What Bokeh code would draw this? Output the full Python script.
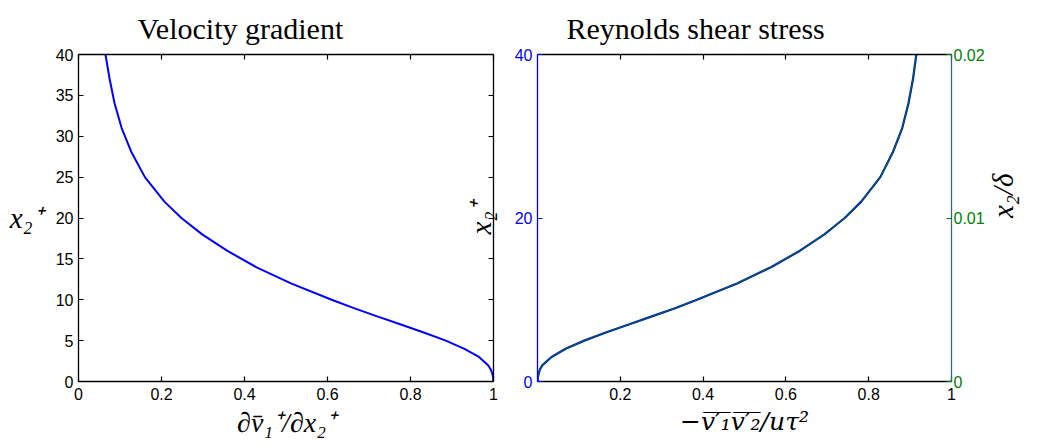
import math
from bokeh.plotting import figure
from bokeh.models import Range1d, LinearAxis, FixedTicker, CustomLabelingPolicy
from bokeh.layouts import row
from bokeh.embed import file_html
from bokeh.resources import INLINE

# ---------------- data ----------------
y_plus = [0, 0.5, 1, 1.5, 2, 3, 4, 5, 6, 7, 8, 9, 10, 12, 14, 16, 18, 20,
          22, 25, 28, 31, 34, 37, 40]
velocity_gradient = [1.0, 0.999, 0.997, 0.993, 0.987, 0.965, 0.93, 0.885,
                     0.832, 0.775, 0.718, 0.662, 0.61, 0.512, 0.428, 0.358,
                     0.298, 0.248, 0.207, 0.16, 0.128, 0.104, 0.087, 0.075,
                     0.065]
reynolds_stress = [0.0, 0.001, 0.003, 0.006, 0.012, 0.034, 0.068, 0.113,
                   0.165, 0.222, 0.278, 0.334, 0.385, 0.482, 0.565, 0.634,
                   0.693, 0.742, 0.782, 0.828, 0.858, 0.881, 0.896, 0.907,
                   0.915]
y_over_delta = [0, 0.00025, 0.0005, 0.00075, 0.001, 0.0015, 0.002, 0.0025,
                0.003, 0.0035, 0.004, 0.0045, 0.005, 0.006, 0.007, 0.008,
                0.009, 0.010, 0.011, 0.0125, 0.014, 0.0155, 0.017, 0.0185,
                0.020]

x_ticks_left = [0, 0.2, 0.4, 0.6, 0.8, 1]
x_tick_labels_left = ["0", "0.2", "0.4", "0.6", "0.8", "1"]
y_ticks_left = [0, 5, 10, 15, 20, 25, 30, 35, 40]
x_ticks_right = [0.2, 0.4, 0.6, 0.8, 1]
x_tick_labels_right = ["0.2", "0.4", "0.6", "0.8", "1"]
y_ticks_right_plus = [0, 20, 40]
y_ticks_right_delta = [0, 0.01, 0.02]
y_tick_labels_right_delta = ["0", "0.01", "0.02"]

title_left = "Velocity gradient"
title_right = "Reynolds shear stress"
xlabel_left = "\u2202v\u0304\u2081\u207a/\u2202x\u2082\u207a"
ylabel_left = "x\u2082\u207a"
xlabel_right = "\u2212v\u0305\u2032\u0305\u2081\u0305v\u0305\u2032\u0305\u2082\u0305/u\u03c4\u00b2"
ylabel_right_plus = "x\u2082\u207a"
ylabel_right_delta = "x\u2082/\u03b4"

BLUE = "#0000ff"
GREEN = "#008000"
TEAL = "#1f6e8c"
SANS = "Liberation Sans"
SERIF = "Liberation Serif"

NO_LABELS = "for (const i of Array.from(indices)) { indices.unset(i) }\nreturn indices"


def style_axis(ax, ticks, color="black", labels=None, show_labels=True,
               standoff=5, line_color=None):
    ax.ticker = FixedTicker(ticks=ticks)
    ax.axis_line_color = line_color or color
    ax.axis_line_width = 1.3
    ax.major_tick_line_color = line_color or color
    ax.major_tick_line_width = 1.2
    ax.major_tick_in = 5
    ax.major_tick_out = 0
    ax.minor_tick_line_color = None
    ax.major_label_text_font = SANS
    ax.major_label_text_font_size = "16px"
    ax.major_label_text_color = color
    ax.major_label_standoff = standoff
    if labels is not None:
        ax.major_label_overrides = {t: s for t, s in zip(ticks, labels)}
    if not show_labels:
        # tick marks only (box axes): no labels are drawn and no space is taken
        ax.major_label_policy = CustomLabelingPolicy(code=NO_LABELS)
        ax.major_label_text_font_size = "0px"
        ax.major_label_standoff = 0


def style_label(ax, text, size="29px", standoff=8, font=SERIF):
    ax.axis_label = text
    ax.axis_label_text_font = font
    ax.axis_label_text_font_style = "italic"
    ax.axis_label_text_font_size = size
    ax.axis_label_text_color = "black"
    ax.axis_label_standoff = standoff


def base_fig(width, mbl, mbr, title, offset):
    p = figure(width=width, height=448, x_range=Range1d(0, 1),
               y_range=Range1d(0, 40), min_border_left=mbl,
               min_border_right=mbr, min_border_top=54, min_border_bottom=67,
               output_backend="svg", toolbar_location=None, title=title)
    p.grid.visible = False
    p.outline_line_color = None
    p.background_fill_color = "white"
    p.title.text_font = SERIF
    p.title.text_font_style = "normal"
    p.title.text_font_size = "30px"
    p.title.text_color = "black"
    p.title.align = "left"
    p.title.offset = offset
    p.title.standoff = 19
    return p


# ---------------- left panel ----------------
p1 = base_fig(504, 78, 11, title_left, 59)
p1.border_fill_color = "white"
p1.line(velocity_gradient, y_plus, line_color=BLUE, line_width=2)
style_axis(p1.xaxis[0], x_ticks_left, labels=x_tick_labels_left, standoff=6)
style_axis(p1.yaxis[0], y_ticks_left, standoff=5)
style_label(p1.xaxis[0], xlabel_left, size="28px", standoff=4)
style_label(p1.yaxis[0], ylabel_left, size="29px", standoff=10)
p1.yaxis[0].axis_label_orientation = "horizontal"
top1 = LinearAxis()
style_axis(top1, x_ticks_left, show_labels=False)
p1.add_layout(top1, "above")
right1 = LinearAxis()
style_axis(right1, y_ticks_left, show_labels=False)
p1.add_layout(right1, "right")

# ---------------- right panel (its left margin overlaps the left panel) ----------------
p2 = base_fig(576, 76, 84, title_right, 29)
p2.border_fill_color = None
p2.margin = (0, 0, 0, -43)
p2.extra_y_ranges = {"delta": Range1d(0, 0.02)}
p2.line(reynolds_stress, y_plus, line_color=BLUE, line_width=2.2)
p2.line(reynolds_stress, y_over_delta, line_color=GREEN, line_width=1.3,
        line_alpha=0.75, y_range_name="delta")

style_axis(p2.xaxis[0], x_ticks_right, labels=x_tick_labels_right, standoff=6)
style_label(p2.xaxis[0], xlabel_right, size="25px", standoff=4, font="DejaVu Serif")
style_axis(p2.yaxis[0], y_ticks_right_plus, color=BLUE, standoff=5)
style_label(p2.yaxis[0], ylabel_right_plus, size="29px", standoff=15)
top2 = LinearAxis()
style_axis(top2, x_ticks_right, show_labels=False)
p2.add_layout(top2, "above")
right2 = LinearAxis(y_range_name="delta")
style_axis(right2, y_ticks_right_delta, color=GREEN,
           labels=y_tick_labels_right_delta, standoff=2, line_color=TEAL)
right2.major_tick_line_color = GREEN
style_label(right2, ylabel_right_delta, size="29px", standoff=15)
right2.axis_label_orientation = math.pi / 2
p2.add_layout(right2, "right")

layout = row(p1, p2)
open("out.html", "w").write(file_html(layout, INLINE))
